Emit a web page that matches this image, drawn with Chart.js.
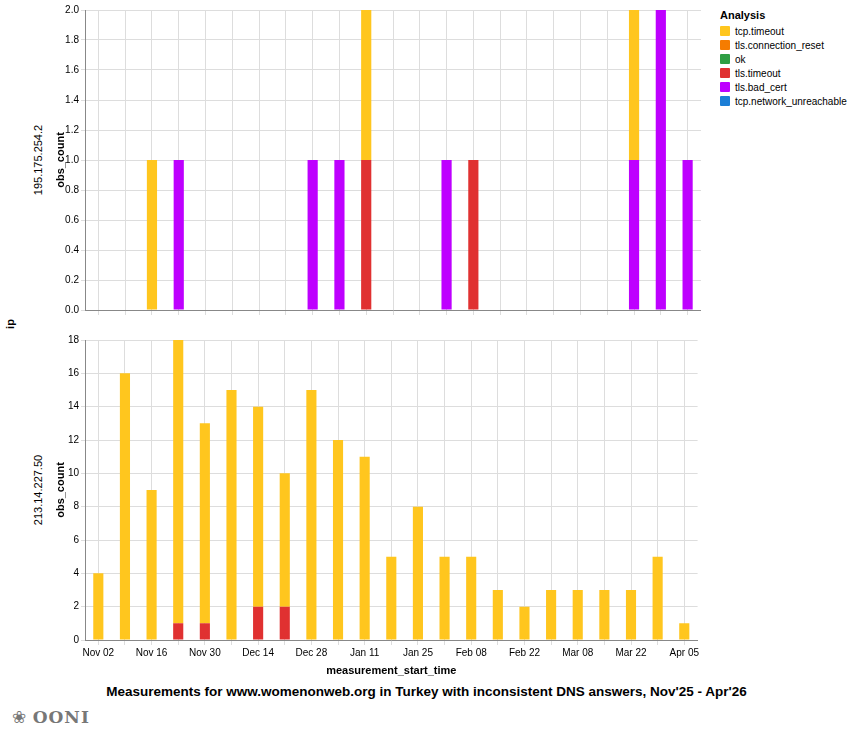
<!DOCTYPE html>
<html><head><meta charset="utf-8">
<script src="https://cdn.jsdelivr.net/npm/chart.js@4"></script>
<style>
body{margin:0;width:853px;height:745px;background:#fff;font-family:"Liberation Sans",Arial,sans-serif;position:relative;overflow:hidden}
.abs{position:absolute}
.rot{transform:rotate(-90deg);transform-origin:center;white-space:nowrap;font-size:11px;color:#000;line-height:12px}
#legend{left:720px;top:9px;font-size:10px}
#legend div.item{display:flex;align-items:center;height:14px}
#legend span.sw{display:inline-block;width:10px;height:10px;margin-right:5px;border-radius:1px}
</style></head><body>
<div class="abs" style="left:60px;top:0;width:641px;height:330px"><canvas id="top"></canvas></div>
<div class="abs" style="left:60px;top:330px;width:641px;height:348px"><canvas id="bot"></canvas></div>
<div class="abs rot" style="left:-22px;top:154px;width:120px;text-align:center">195.175.254.2</div>
<div class="abs rot" style="left:0px;top:154px;width:120px;text-align:center;font-weight:bold">obs_count</div>
<div class="abs rot" style="left:-22px;top:484px;width:120px;text-align:center">213.14.227.50</div>
<div class="abs rot" style="left:0px;top:484px;width:120px;text-align:center;font-weight:bold">obs_count</div>
<div class="abs rot" style="left:-10px;top:318px;width:40px;text-align:center;font-weight:bold">ip</div>
<div id="legend" class="abs"><div style="font-weight:bold;font-size:11px;margin-bottom:3px">Analysis</div></div>
<div class="abs" style="left:0;top:684px;width:853px;text-align:center;font-size:13.5px;font-weight:bold">Measurements for www.womenonweb.org in Turkey with inconsistent DNS answers, Nov'25 - Apr'26</div>
<div class="abs" style="left:12px;top:707px;font-size:17px;color:#777;letter-spacing:1px">&#x2740; <b style="font-family:'DejaVu Serif'">OONI</b></div>
<script>
const weeks = ['Nov 02','Nov 09','Nov 16','Nov 23','Nov 30','Dec 07','Dec 14','Dec 21','Dec 28','Jan 04','Jan 11','Jan 18','Jan 25','Feb 01','Feb 08','Feb 15','Feb 22','Mar 01','Mar 08','Mar 15','Mar 22','Mar 29','Apr 05'];
// ip 195.175.254.2
const topTcpTimeout = [0,0,1,0,0,0,0,0,0,0,1,0,0,0,0,0,0,0,0,0,1,0,0];
const topTlsTimeout = [0,0,0,0,0,0,0,0,0,0,1,0,0,0,1,0,0,0,0,0,0,0,0];
const topBadCert    = [0,0,0,1,0,0,0,0,1,1,0,0,0,1,0,0,0,0,0,0,1,2,1];
// ip 213.14.227.50
const botTcpTimeout = [4,16,9,17,12,15,12,8,15,12,11,5,8,5,5,3,2,3,3,3,3,5,1];
const botTlsTimeout = [0,0,0,1,1,0,2,2,0,0,0,0,0,0,0,0,0,0,0,0,0,0,0];

const legendNames = ['tcp.timeout','tls.connection_reset','ok','tls.timeout','tls.bad_cert','tcp.network_unreachable'];
const legendColors = ['#FFC61E','#F57C00','#2E9E44','#E03131','#BE00FF','#1C7ED6'];
const col = n => legendColors[legendNames.indexOf(n)];

const lg = document.getElementById('legend');
legendNames.forEach((n,i)=>{
  const d=document.createElement('div');d.className='item';
  d.innerHTML='<span class="sw" style="background:'+legendColors[i]+'"></span>'+n;
  lg.appendChild(d);
});

function ds(label, data){
  return {label, data:data.map(v=>v||null), backgroundColor:col(label), barPercentage:0.38, categoryPercentage:1, borderSkipped:false};
}
function makeChart(id, sets, ymax, step, showX){
  new Chart(document.getElementById(id), {
    type:'bar',
    data:{labels:weeks, datasets:sets},
    options:{
      responsive:true, maintainAspectRatio:false, animation:false,
      layout:{padding:{top:10,right:0}},
      plugins:{legend:{display:false},tooltip:{enabled:false}},
      scales:{
        x:{stacked:true, grid:{color:'#ddd',offset:false,tickLength:5}, border:{color:'#888'},
           ticks:{display:showX, color:'#000', font:{size:10}, maxRotation:0, autoSkip:false, padding:2,
             callback:(v,i)=> i%2===0 ? weeks[i] : ''},
           title:{display:showX, text:'measurement_start_time', color:'#000', font:{size:11,weight:'bold'}, padding:{top:0,bottom:0}},
           afterFit:s=>{s.height = showX ? 38 : 20;}},
        y:{stacked:true, min:0, max:ymax, grid:{color:'#ddd',tickLength:4}, border:{color:'#888'},
           ticks:{stepSize:step, color:'#000', font:{size:10}, padding:2, callback:v=> ymax<=2 ? v.toFixed(1) : v},
           afterFit:s=>{s.width=25;}}
      }
    }
  });
}
makeChart('top',[ds('tls.bad_cert',topBadCert),ds('tls.timeout',topTlsTimeout),ds('tcp.timeout',topTcpTimeout)],2,0.2,false);
makeChart('bot',[ds('tls.timeout',botTlsTimeout),ds('tcp.timeout',botTcpTimeout)],18,2,true);
</script>
</body></html>
